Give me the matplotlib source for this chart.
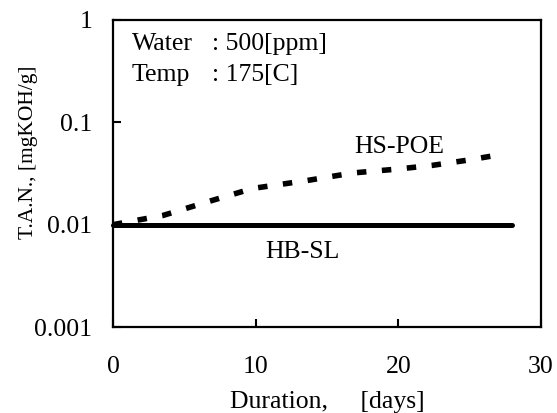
import matplotlib
matplotlib.use("Agg")
import matplotlib.pyplot as plt
from matplotlib.ticker import FixedLocator, FixedFormatter, NullLocator

plt.rcParams['font.family'] = ['Liberation Serif', 'DejaVu Serif']

# Data
hb_days = [0, 28]
hb_tan = [0.010, 0.010]

poe_days = [0, 3.5, 6.8, 9.8, 13.6, 16.8, 20.0, 22.4, 25.0, 27.0]
poe_tan = [0.0100, 0.0123, 0.0170, 0.0226, 0.0270, 0.0320, 0.0350, 0.0380, 0.0430, 0.0480]

x_ticks = [0, 10, 20, 30]
x_labels = ['0', '10', '20', '30']
y_ticks = [0.001, 0.01, 0.1, 1]
y_labels = ['0.001', '0.01', '0.1', '1']

fig = plt.figure(figsize=(5.57, 4.13), dpi=100)
ax = fig.add_axes([113/557, 1-327/413, (541-113)/557, (327-20)/413])

ax.plot(hb_days, hb_tan, color='black', lw=3.6, solid_capstyle='round', clip_on=False)
ax.plot(poe_days, poe_tan, color='black', lw=4.0, linestyle=(0, (1.7, 2.8)),
        dash_capstyle='butt')

ax.set_yscale('log')
ax.set_xlim(0, 30)
ax.set_ylim(0.001, 1)

ax.xaxis.set_major_locator(FixedLocator(x_ticks))
ax.xaxis.set_major_formatter(FixedFormatter(x_labels))
ax.yaxis.set_major_locator(FixedLocator(y_ticks))
ax.yaxis.set_major_formatter(FixedFormatter(y_labels))
ax.yaxis.set_minor_locator(NullLocator())
ax.xaxis.set_minor_locator(NullLocator())

ax.tick_params(axis='both', direction='in', length=6, width=1.5, labelsize=18.5)
ax.tick_params(axis='x', pad=21)
ax.tick_params(axis='y', pad=15)

for s in ax.spines.values():
    s.set_linewidth(1.6)
    s.set_color('black')

ax.set_xlabel('Duration,     [days]', fontsize=18.5, labelpad=9)
ax.set_ylabel('T.A.N., [mgKOH/g]', fontsize=15.5)
ax.yaxis.set_label_coords(-0.175, 0.57)

tr = ax.transAxes
ax.text(0.044, 0.902, 'Water', fontsize=18.5, transform=tr, va='baseline', ha='left')
ax.text(0.231, 0.902, ': 500[ppm]', fontsize=18.5, transform=tr, va='baseline', ha='left')
ax.text(0.044, 0.801, 'Temp', fontsize=18.5, transform=tr, va='baseline', ha='left')
ax.text(0.231, 0.801, ': 175[C]', fontsize=18.5, transform=tr, va='baseline', ha='left')
ax.text(0.668, 0.567, 'HS-POE', fontsize=18.5, transform=tr, va='baseline', ha='center')
ax.text(0.442, 0.225, 'HB-SL', fontsize=18.5, transform=tr, va='baseline', ha='center')

fig.savefig('out.png', dpi=100)
